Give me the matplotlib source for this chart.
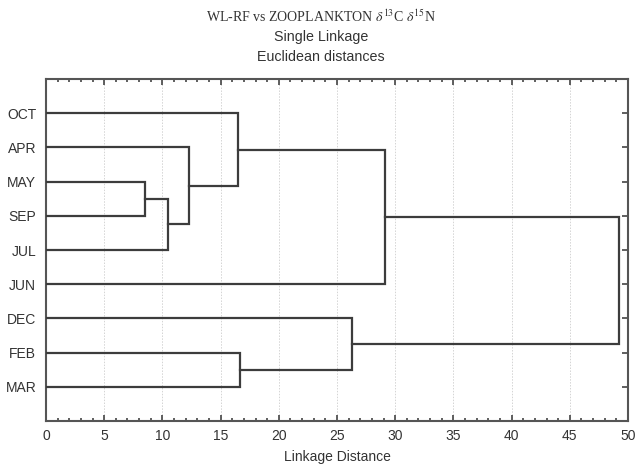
import matplotlib
matplotlib.use("Agg")
import matplotlib.pyplot as plt
from matplotlib.ticker import MultipleLocator

# leaves, top to bottom
leaves = ["OCT", "APR", "MAY", "SEP", "JUL", "JUN", "DEC", "FEB", "MAR"]

# single-linkage merges: (left, right, linkage distance)
merges = [
    ("MAY", "SEP", 8.5),
    ("c1", "JUL", 10.5),
    ("APR", "c2", 12.3),
    ("OCT", "c3", 16.5),
    ("c4", "JUN", 29.1),
    ("FEB", "MAR", 16.7),
    ("DEC", "c6", 26.3),
    ("c5", "c7", 49.2),
]

x_ticks = list(range(0, 51, 5))

line_col = "#3c3c3c"
text_col = "#333333"

fig = plt.figure(figsize=(6.35, 4.68), dpi=100)
ax = fig.add_axes([46 / 635, 47 / 468, 582 / 635, 342 / 468])

# node -> (y position, height)
nodes = {name: (i + 1, 0.0) for i, name in enumerate(leaves)}
for k, (a, b, h) in enumerate(merges, start=1):
    ya, ha = nodes[a]
    yb, hb = nodes[b]
    ax.plot([ha, h, h, hb], [ya, ya, yb, yb], color=line_col, lw=1.6,
            solid_joinstyle="miter", zorder=3)
    nodes["c%d" % k] = ((ya + yb) / 2, h)

ax.set_xlim(0, 50)
ax.set_ylim(10, 0)
ax.set_xticks(x_ticks)
ax.xaxis.set_minor_locator(MultipleLocator(1))
ax.set_yticks(range(1, len(leaves) + 1))
ax.set_yticklabels(leaves)

ax.grid(axis="x", which="major", color="#d4d4d4", linestyle=(0, (1.5, 1.5)), lw=0.7)
ax.set_axisbelow(True)

for s in ax.spines.values():
    s.set_color("#555555")
    s.set_linewidth(1.5)

ax.tick_params(axis="x", which="both", direction="in", top=True, bottom=True,
               colors="#444444", labelcolor=text_col, labelsize=10, pad=6)
ax.tick_params(axis="x", which="major", length=4, width=1.2)
ax.tick_params(axis="x", which="minor", length=2.5, width=1.2)
ax.tick_params(axis="y", direction="in", left=False, right=True, length=4,
               width=1.2, colors="#444444", labelcolor=text_col,
               labelsize=10, pad=7)

for lab in ax.get_xticklabels() + ax.get_yticklabels():
    lab.set_family("Liberation Sans")

fig.text(337 / 635, 1 - 457 / 468, "Linkage Distance", ha="center", va="center",
         family="Liberation Sans", fontsize=10, color=text_col)

plt.rcParams["mathtext.fontset"] = "stix"
fig.text(321 / 635, 1 - 17 / 468, r"WL-RF vs ZOOPLANKTON $\delta^{13}$C $\delta^{15}$N",
         ha="center", va="center", family="Liberation Serif", fontsize=10,
         color=text_col)
fig.text(321 / 635, 1 - 37 / 468, "Single Linkage", ha="center", va="center",
         family="Liberation Sans", fontsize=10.3, color=text_col)
fig.text(321 / 635, 1 - 57 / 468, "Euclidean distances", ha="center", va="center",
         family="Liberation Sans", fontsize=10.3, color=text_col)

fig.savefig("out.png", dpi=100)
